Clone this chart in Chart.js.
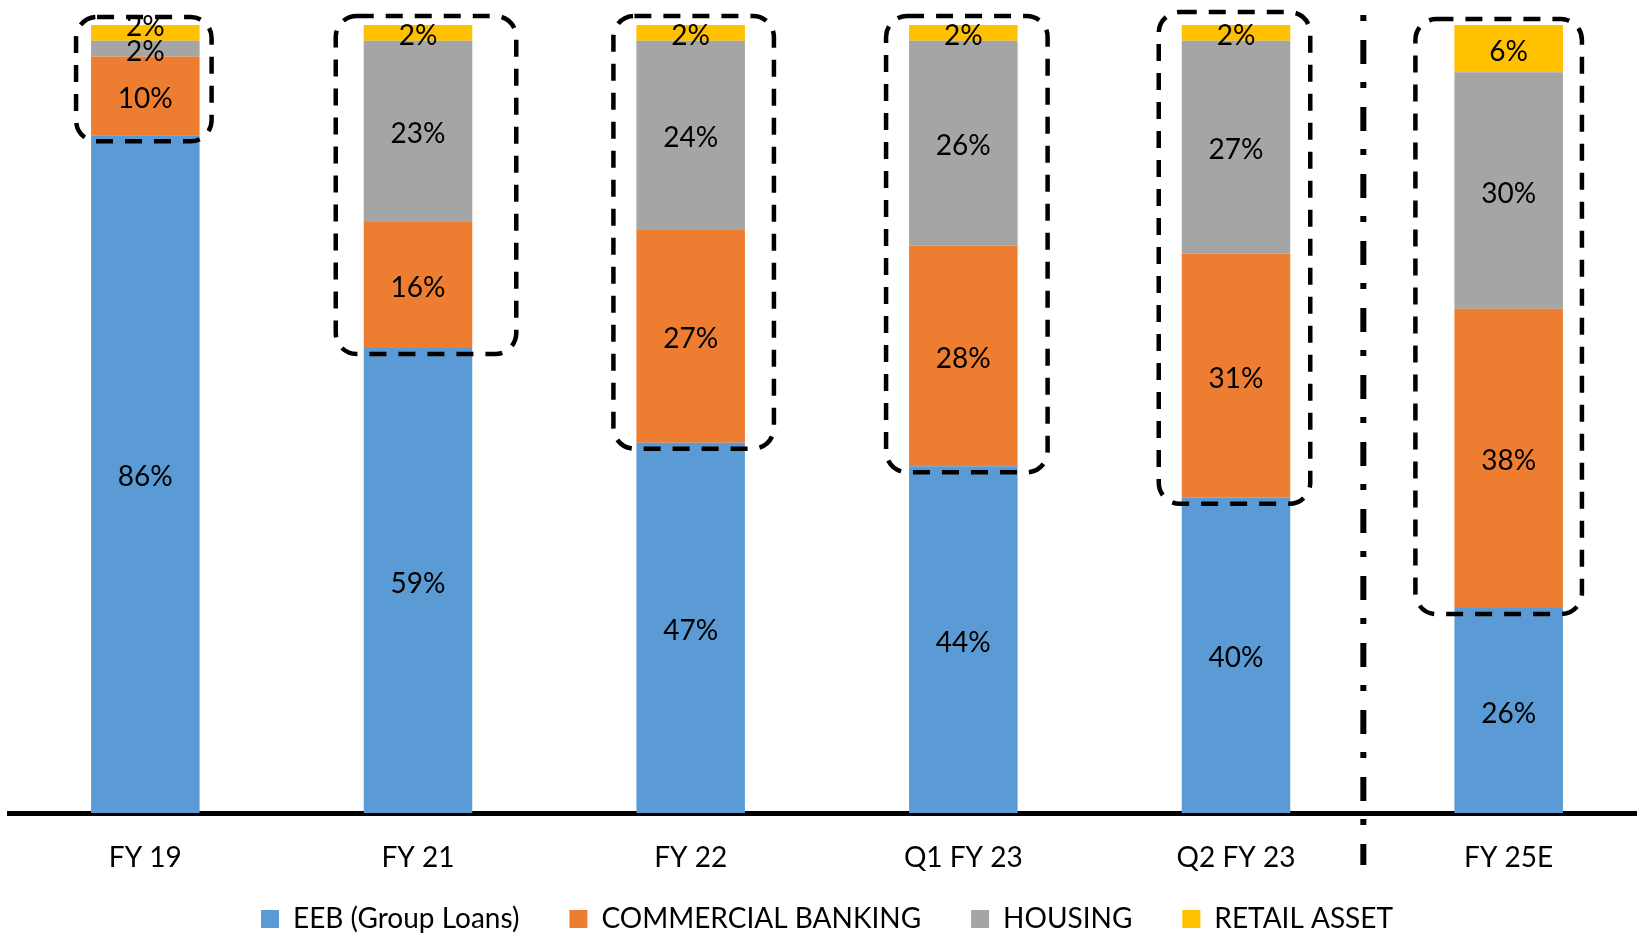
<!DOCTYPE html>
<html>
<head>
<meta charset="utf-8">
<script src="https://cdn.jsdelivr.net/npm/chart.js@4"></script>
<style>
  html, body { margin: 0; padding: 0; background: #fff; overflow: hidden; }
  #wrap { width: 1645px; height: 933px; }
</style>
</head>
<body>
<div id="wrap"><canvas id="mixChart" width="1645" height="933"></canvas></div>
<script>
// Portfolio mix (%)
const categories = ['FY 19', 'FY 21', 'FY 22', 'Q1 FY 23', 'Q2 FY 23', 'FY 25E'];
const eeb = [86, 59, 47, 44, 40, 26];
const commercial = [10, 16, 27, 28, 31, 38];
const housing = [2, 23, 24, 26, 27, 30];
const retail = [2, 2, 2, 2, 2, 6];
const seriesNames = ['EEB (Group Loans)', 'COMMERCIAL BANKING', 'HOUSING', 'RETAIL ASSET'];
const seriesColors = ['#5B9BD5', '#ED7D31', '#A5A5A5', '#FFC000'];

// extra room of each dashed box around the non-EEB part: left, right, top (px)
const boxPad = [[15, 12, 8], [28, 44, 9], [23, 29, 9], [23, 30, 9], [23, 20, 13], [39, 19, 6]];

Chart.defaults.font.family = 'Lato';
Chart.defaults.color = '#000';

// dashed rounded boxes + dash-dot separator before the estimate
const annotations = {
    id: 'annotations',
    afterLayout(chart) {
        // let the x tick labels hang below the (short) axis box
        chart.scales.x.bottom = chart.height;
    },
    afterDatasetsDraw(chart) {
        const ctx = chart.ctx;
        const yScale = chart.scales.y;
        const bars = chart.getDatasetMeta(0).data;
        ctx.save();
        ctx.strokeStyle = '#000';
        ctx.lineWidth = 4.5;
        ctx.setLineDash([17, 12]);
        bars.forEach((bar, i) => {
            const total = eeb[i] + commercial[i] + housing[i] + retail[i];
            const half = bar.width / 2;
            const [pl, pr, pt] = boxPad[i];
            const left = bar.x - half - pl;
            const right = bar.x + half + pr;
            const top = yScale.getPixelForValue(total) - pt;
            const bottom = bar.y + 6;
            const r = Math.min(21, (bottom - top) / 2);
            ctx.beginPath();
            ctx.roundRect(left, top, right - left, bottom - top, r);
            ctx.stroke();
        });

        const sepX = (bars[4].x + bars[5].x) / 2 - 9;
        ctx.lineWidth = 6;
        ctx.setLineDash([6, 19, 24, 18]);
        ctx.beginPath();
        ctx.moveTo(sepX, chart.chartArea.top - 10);
        ctx.lineTo(sepX, chart.chartArea.bottom + 52);
        ctx.stroke();
        ctx.restore();
    }
};

// value labels in the middle of each segment
const segmentLabels = {
    id: 'segmentLabels',
    afterDatasetsDraw(chart) {
        const ctx = chart.ctx;
        ctx.save();
        ctx.font = '28px Lato';
        ctx.fillStyle = '#000';
        ctx.textAlign = 'center';
        ctx.textBaseline = 'middle';
        chart.data.datasets.forEach((ds, di) => {
            const meta = chart.getDatasetMeta(di);
            meta.data.forEach((bar, i) => {
                let y = (bar.y + bar.base) / 2 + 3;
                // two thin segments on top of each other: lift the upper one
                if (di > 0) {
                    const below = chart.getDatasetMeta(di - 1).data[i];
                    if (bar.base - bar.y < 20 && below.base - below.y < 20) y -= 9;
                }
                ctx.fillText(ds.data[i] + '%', bar.x, y);
            });
        });
        ctx.restore();
    }
};

const seriesData = [eeb, commercial, housing, retail];

new Chart(document.getElementById('mixChart'), {
    type: 'bar',
    data: {
        labels: categories,
        datasets: seriesData.map((values, i) => ({
            label: seriesNames[i],
            data: values,
            backgroundColor: seriesColors[i],
            borderWidth: 0,
            barPercentage: 0.398,
            categoryPercentage: 1
        }))
    },
    options: {
        responsive: false,
        animation: false,
        layout: { padding: { top: 25, left: 9, right: 0, bottom: -10 } },
        plugins: {
            legend: {
                position: 'bottom',
                labels: {
                    boxWidth: 18,
                    boxHeight: 18,
                    padding: 50,
                    color: '#000',
                    font: { family: 'Lato', size: 28 }
                }
            },
            tooltip: { enabled: false }
        },
        scales: {
            x: {
                stacked: true,
                z: 1,
                grid: { display: false, drawTicks: false },
                border: { color: '#000', width: 5 },
                ticks: { color: '#000', padding: 28, font: { family: 'Lato', size: 28 } },
                afterFit(scale) { scale.height = 42; }
            },
            y: { stacked: true, display: false, min: 0, max: 100 }
        }
    },
    plugins: [annotations, segmentLabels]
});
</script>
</body>
</html>
